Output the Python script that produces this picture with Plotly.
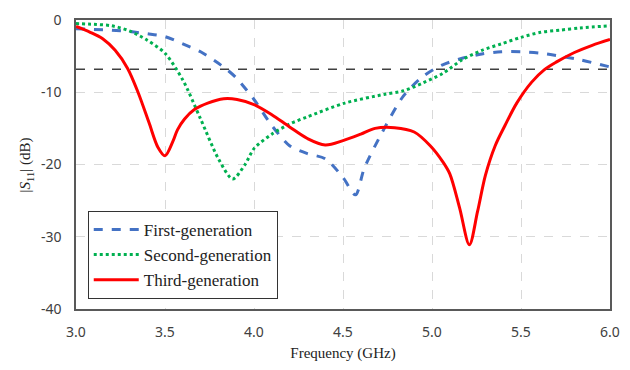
import plotly.graph_objects as go

# First-generation (blue dashed)
f1 = [3.0, 3.1, 3.2, 3.3, 3.4, 3.5, 3.6, 3.7, 3.8, 3.85, 3.9, 4.0, 4.1, 4.2, 4.3, 4.4, 4.5, 4.57, 4.62, 4.73, 4.84, 4.95, 5.06, 5.17, 5.28, 5.39, 5.5, 5.61, 5.72, 5.83, 6.0]
s1 = [-1.2, -1.3, -1.4, -1.6, -1.9, -2.3, -3.3, -4.4, -6.0, -6.9, -8.0, -11.0, -14.6, -17.4, -18.5, -19.2, -21.8, -24.2, -20.5, -15.1, -10.5, -7.8, -6.2, -5.3, -4.7, -4.4, -4.4, -4.6, -5.0, -5.5, -6.5]

# Second-generation (green dotted)
f2 = [3.0, 3.1, 3.2, 3.3, 3.4, 3.5, 3.6, 3.7, 3.8, 3.88, 3.95, 4.0, 4.1, 4.2, 4.3, 4.51, 4.73, 4.84, 4.95, 5.06, 5.17, 5.28, 5.39, 5.5, 5.61, 5.72, 5.83, 6.0]
s2 = [-0.5, -0.6, -0.8, -1.5, -2.8, -4.6, -8.3, -13.7, -19.2, -22.0, -20.0, -17.8, -15.8, -14.4, -13.4, -11.5, -10.3, -9.8, -8.7, -7.4, -5.5, -4.2, -3.3, -2.4, -1.7, -1.4, -1.1, -0.8]

# Third-generation (red solid)
f3 = [3.0, 3.08, 3.15, 3.22, 3.29, 3.35, 3.41, 3.46, 3.5, 3.546, 3.57, 3.61, 3.665, 3.74, 3.83, 3.905, 4.0, 4.1, 4.2, 4.3, 4.4, 4.5, 4.6, 4.68, 4.79, 4.9, 4.99, 5.06, 5.1, 5.155, 5.21, 5.256, 5.3, 5.355, 5.41, 5.476, 5.56, 5.63, 5.7, 5.8, 5.9, 6.0]
s3 = [-0.9, -1.7, -2.6, -4.2, -6.7, -10.1, -14.2, -17.6, -18.8, -16.7, -15.2, -13.7, -12.4, -11.5, -10.9, -11.0, -11.7, -13.1, -14.8, -16.4, -17.3, -16.7, -15.8, -15.0, -14.9, -15.5, -17.4, -19.6, -21.3, -26.0, -31.1, -26.5, -21.5, -17.4, -14.6, -11.5, -8.6, -6.9, -5.8, -4.5, -3.5, -2.7]

ref_x = [3.0, 6.0]
ref_y = [-6.8, -6.8]

x_ticks = [3.0, 3.5, 4.0, 4.5, 5.0, 5.5, 6.0]
x_labels = ["3.0", "3.5", "4.0", "4.5", "5.0", "5.5", "6.0"]
y_ticks = [0, -10, -20, -30, -40]
y_labels = ["0", "-10", "-20", "-30", "-40"]

fig = go.Figure()
fig.add_trace(go.Scatter(x=ref_x, y=ref_y, mode="lines", showlegend=False,
                         line=dict(color="#404040", width=1.5, dash="dash")))
fig.add_trace(go.Scatter(x=f1, y=s1, mode="lines", name="First-generation",
                         line=dict(color="#4472C4", width=3, dash="dash", shape="spline", smoothing=0.8)))
fig.add_trace(go.Scatter(x=f2, y=s2, mode="lines", name="Second-generation",
                         line=dict(color="#00B050", width=3, dash="dot", shape="spline", smoothing=0.8)))
fig.add_trace(go.Scatter(x=f3, y=s3, mode="lines", name="Third-generation",
                         line=dict(color="#FF0000", width=3, shape="spline", smoothing=0.9)))

serif = "Liberation Serif, Times New Roman, serif"
sans = "Noto Sans, Open Sans, sans-serif"
axis_common = dict(showline=True, linecolor="#595959", linewidth=1.5, mirror=True,
                   showgrid=True, gridcolor="#D9D9D9", griddash="dash", gridwidth=1,
                   zeroline=False, ticks="", tickfont=dict(family=sans, size=14, color="#404040"))
fig.update_layout(
    width=630, height=370,
    margin=dict(l=76, r=10, t=16, b=61),
    paper_bgcolor="white", plot_bgcolor="white",
    font=dict(family=serif, size=15, color="#222"),
    xaxis=dict(range=[3.0, 6.0], tickvals=x_ticks, ticktext=x_labels, ticklabelstandoff=9,
               title=dict(text="Frequency (GHz)", font=dict(family=serif, size=15), standoff=8),
               **axis_common),
    yaxis=dict(range=[-40, 0], tickvals=y_ticks, ticktext=y_labels, ticklabelstandoff=10,
               **axis_common),
    legend=dict(x=0.022, y=0.035, xanchor="left", yanchor="bottom",
                bgcolor="white", bordercolor="#333", borderwidth=1, itemwidth=45,
                font=dict(family=serif, size=17, color="#222"), tracegroupgap=2),
    annotations=[dict(text="|<i>S</i><sub>11</sub>| (dB)", textangle=-90, showarrow=False,
                      xref="paper", yref="paper", x=-51 / 544, y=0.5,
                      xanchor="center", yanchor="middle",
                      font=dict(family=serif, size=15, color="#222"))],
)
fig.write_html("out.html")
